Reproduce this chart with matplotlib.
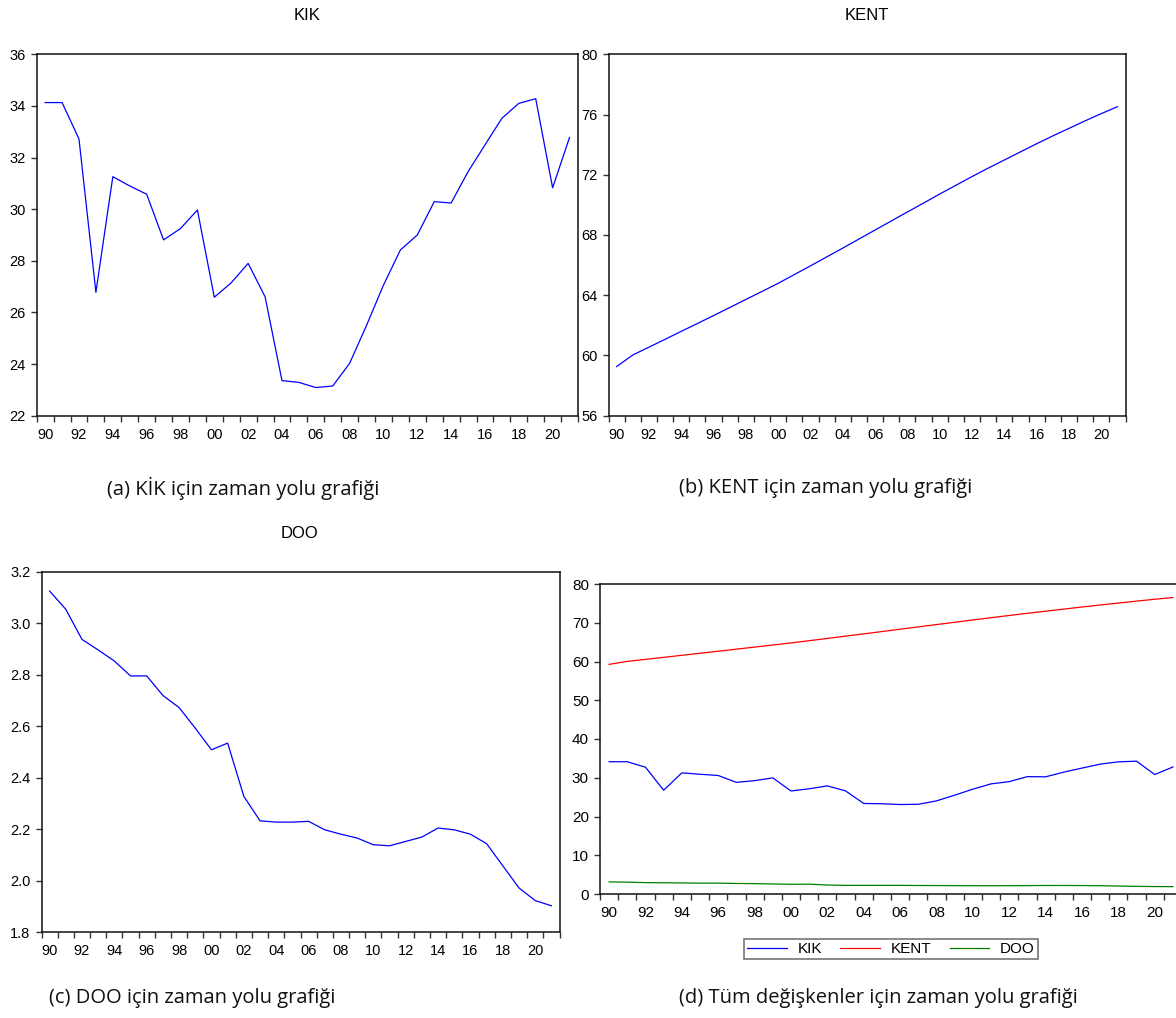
import numpy as np
import matplotlib
matplotlib.use("Agg")
import matplotlib.pyplot as plt
from matplotlib.ticker import FixedLocator, FuncFormatter

years = list(range(1990, 2022))

kik = [34.13, 34.13, 32.72, 26.78, 31.26, 30.90, 30.58, 28.81, 29.25, 29.97,
       26.59, 27.15, 27.90, 26.61, 23.36, 23.29, 23.09, 23.15, 24.03, 25.50,
       27.06, 28.42, 29.00, 30.29, 30.24, 31.45, 32.49, 33.52, 34.10, 34.28,
       30.83, 32.78]

kent = [59.26, 60.03, 60.55, 61.07, 61.60, 62.12, 62.65, 63.18, 63.72, 64.25,
        64.79, 65.37, 65.95, 66.54, 67.13, 67.73, 68.33, 68.93, 69.53, 70.12,
        70.72, 71.30, 71.88, 72.44, 72.98, 73.52, 74.06, 74.58, 75.08, 75.58,
        76.06, 76.52]

doo = [3.125, 3.054, 2.937, 2.896, 2.853, 2.795, 2.795, 2.719, 2.672, 2.592,
       2.508, 2.534, 2.327, 2.232, 2.227, 2.227, 2.230, 2.197, 2.180, 2.165,
       2.139, 2.135, 2.152, 2.169, 2.204, 2.197, 2.180, 2.143, 2.057, 1.971,
       1.922, 1.902]

titles = ["KIK", "KENT", "DOO"]
captions = ["(a) KİK için zaman yolu grafiği",
            "(b) KENT için zaman yolu grafiği",
            "(c) DOO için zaman yolu grafiği",
            "(d) Tüm değişkenler için zaman yolu grafiği"]

W, H = 1176, 1018
plt.rcParams['font.family'] = ['Liberation Sans', 'DejaVu Sans']

fig = plt.figure(figsize=(W / 100, H / 100), dpi=100)


def box(l, t, r, b):
    return [l / W, 1 - b / H, (r - l) / W, (b - t) / H]


def style(ax, yticks, fmt, fs=10.5):
    ax.set_xlim(1989.5, 2021.5)
    ax.set_ylim(yticks[0], yticks[-1])
    ax.set_yticks(yticks)
    ax.yaxis.set_major_formatter(FuncFormatter(lambda v, p: fmt % v))
    ax.xaxis.set_major_locator(FixedLocator(list(range(1990, 2022, 2))))
    ax.xaxis.set_minor_locator(FixedLocator([y + 0.5 for y in range(1989, 2022)]))
    ax.xaxis.set_major_formatter(FuncFormatter(lambda v, p: "%02d" % (int(round(v)) % 100)))
    ax.tick_params(axis='x', which='major', length=0, pad=8.5, labelsize=fs)
    ax.tick_params(axis='x', which='minor', length=4.5, width=1, direction='out', color='#333333')
    ax.tick_params(axis='y', length=4.5, width=1, direction='out', pad=3.5, labelsize=fs, color='#333333')
    for s in ax.spines.values():
        s.set_linewidth(1.1)
        s.set_color('#111111')


# (a) KIK
ax1 = fig.add_axes(box(36.7, 54.3, 578, 415.7))
ax1.plot(years, kik, color='#0000ff', lw=0.9)
style(ax1, list(range(22, 37, 2)), "%d")

# (b) KENT
ax2 = fig.add_axes(box(608.5, 54.3, 1125.5, 415.7))
ax2.plot(years, kent, color='#0000ff', lw=0.9)
style(ax2, list(range(56, 81, 4)), "%d")

# (c) DOO
ax3 = fig.add_axes(box(41.5, 571.7, 559.5, 932))
ax3.plot(years, doo, color='#0000ff', lw=0.9)
style(ax3, [1.8, 2.0, 2.2, 2.4, 2.6, 2.8, 3.0, 3.2], "%.1f")

# (d) all series
ax4 = fig.add_axes(box(600, 584, 1182, 894))
l1, = ax4.plot(years, kik, color='#0000ff', lw=0.9, label='KIK')
l2, = ax4.plot(years, kent, color='#ff0000', lw=0.9, label='KENT')
l3, = ax4.plot(years, doo, color='#008000', lw=0.9, label='DOO')
style(ax4, list(range(0, 81, 10)), "%d", fs=11)
ax4.spines['right'].set_visible(False)

leg = fig.legend(handles=[l1, l2, l3], loc='center', ncol=3,
                 bbox_to_anchor=(891 / W, 1 - 949 / H), fontsize=11,
                 frameon=True, fancybox=False, handlelength=2.6,
                 columnspacing=1.2, handletextpad=0.7, borderpad=0.2,
                 borderaxespad=0)
leg.get_frame().set_edgecolor('#444444')
leg.get_frame().set_linewidth(1.1)

for t, (x, y) in zip(titles, [(307, 16), (867, 16), (300, 533)]):
    fig.text(x / W, 1 - y / H, t, ha='center', va='center', fontsize=12)

cap_pos = [(243, 488), (826, 488), (192, 998), (878, 998)]
for c, (x, y) in zip(captions, cap_pos):
    fig.text(x / W, 1 - y / H, c, ha='center', va='center', fontsize=14.5,
             family=['Open Sans', 'DejaVu Sans'], color='#111111')

fig.savefig("out.png", dpi=100)
